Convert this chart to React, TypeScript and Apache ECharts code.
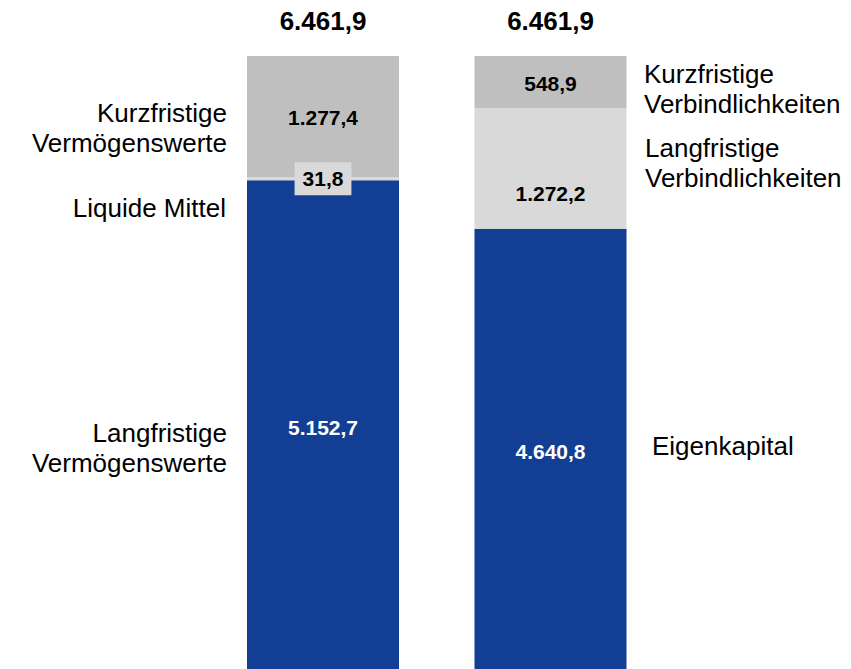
import React, { useEffect, useRef } from "react";
import * as echarts from "echarts";

const categories = ["Aktiva", "Passiva"];
const bottomValues = [5152.7, 4640.8];
const middleValues = [31.8, 1272.2];
const topValues = [1277.4, 548.9];
const leftLabels = ["Kurzfristige\nVermögenswerte", "Liquide Mittel", "Langfristige\nVermögenswerte"];
const rightLabels = ["Kurzfristige\nVerbindlichkeiten", "Langfristige\nVerbindlichkeiten", "Eigenkapital"];

const FONT = '"Liberation Sans", Arial, Helvetica, sans-serif';
const BLUE = "#123F93";
const GREY = "#BFBFBF";
const LIGHT = "#D9D9D9";

function fmt(v: number): string {
  const fixed = v.toFixed(1);
  const [intPart, dec] = fixed.split(".");
  const withDots = intPart.replace(/\B(?=(\d{3})+(?!\d))/g, ".");
  return withDots + "," + dec;
}

const totals = categories.map((_, i) => bottomValues[i] + middleValues[i] + topValues[i]);

export default function App() {
  const ref = useRef<HTMLDivElement>(null);
  useEffect(() => {
    if (!ref.current) return;
    const chart = echarts.init(ref.current, null, { renderer: "svg" });
    const innerLabel = (color: string) => ({
      show: true,
      position: "inside" as const,
      color,
      fontFamily: FONT,
      fontWeight: "bold" as const,
      fontSize: 21,
      formatter: (p: any) => fmt(p.value),
    });
    const sideText = (text: string, x: number, y: number, align: "left" | "right") => ({
      type: "text",
      x,
      y,
      style: {
        text,
        fill: "#000",
        font: `26px ${FONT}`,
        fontSize: 26,
        fontFamily: FONT,
        lineHeight: 30,
        textAlign: align,
        textVerticalAlign: "top",
        verticalAlign: "top",
      },
    });
    chart.setOption({
      animation: false,
      grid: { left: 209.25, right: 186.75, top: 56, bottom: 0, containLabel: false },
      xAxis: {
        type: "category",
        data: categories,
        show: false,
      },
      yAxis: {
        type: "value",
        min: 0,
        max: Math.max(...totals),
        show: false,
        splitLine: { show: false },
      },
      series: [
        {
          name: "unten",
          type: "bar",
          stack: "s",
          barWidth: 152,
          data: bottomValues,
          itemStyle: { color: BLUE },
          label: { ...innerLabel("#fff"), offset: [0, 3] },
        },
        {
          name: "mitte",
          type: "bar",
          stack: "s",
          barWidth: 152,
          data: [
            {
              value: middleValues[0],
              label: {
                backgroundColor: LIGHT,
                padding: [5, 8],
                lineHeight: 23,
              },
            },
            {
              value: middleValues[1],
              label: { offset: [0, 25] },
            },
          ],
          itemStyle: { color: LIGHT },
          label: innerLabel("#000"),
        },
        {
          name: "oben",
          type: "bar",
          stack: "s",
          barWidth: 152,
          data: topValues,
          itemStyle: { color: GREY },
          label: { ...innerLabel("#000"), offset: [0, 1] },
        },
        {
          name: "summe",
          type: "bar",
          stack: "s",
          barWidth: 152,
          data: totals.map(() => 0),
          itemStyle: { color: "transparent" },
          label: {
            show: true,
            position: "top",
            distance: 20,
            color: "#000",
            fontFamily: FONT,
            fontWeight: "bold",
            fontSize: 26,
            lineHeight: 30,
            formatter: (p: any) => fmt(totals[p.dataIndex]),
          },
        },
      ],
      graphic: [
        sideText(leftLabels[0], 227, 97.5, "right"),
        sideText(leftLabels[1], 226, 192.5, "right"),
        sideText(leftLabels[2], 227, 417.5, "right"),
        sideText(rightLabels[0], 644, 59, "left"),
        sideText(rightLabels[1], 645, 132.5, "left"),
        sideText(rightLabels[2], 652, 431, "left"),
      ],
    });
    return () => chart.dispose();
  }, []);
  return (
    <div
      ref={ref}
      style={{ position: "fixed", left: 0, top: 0, width: 851, height: 669, background: "#fff" }}
    />
  );
}
